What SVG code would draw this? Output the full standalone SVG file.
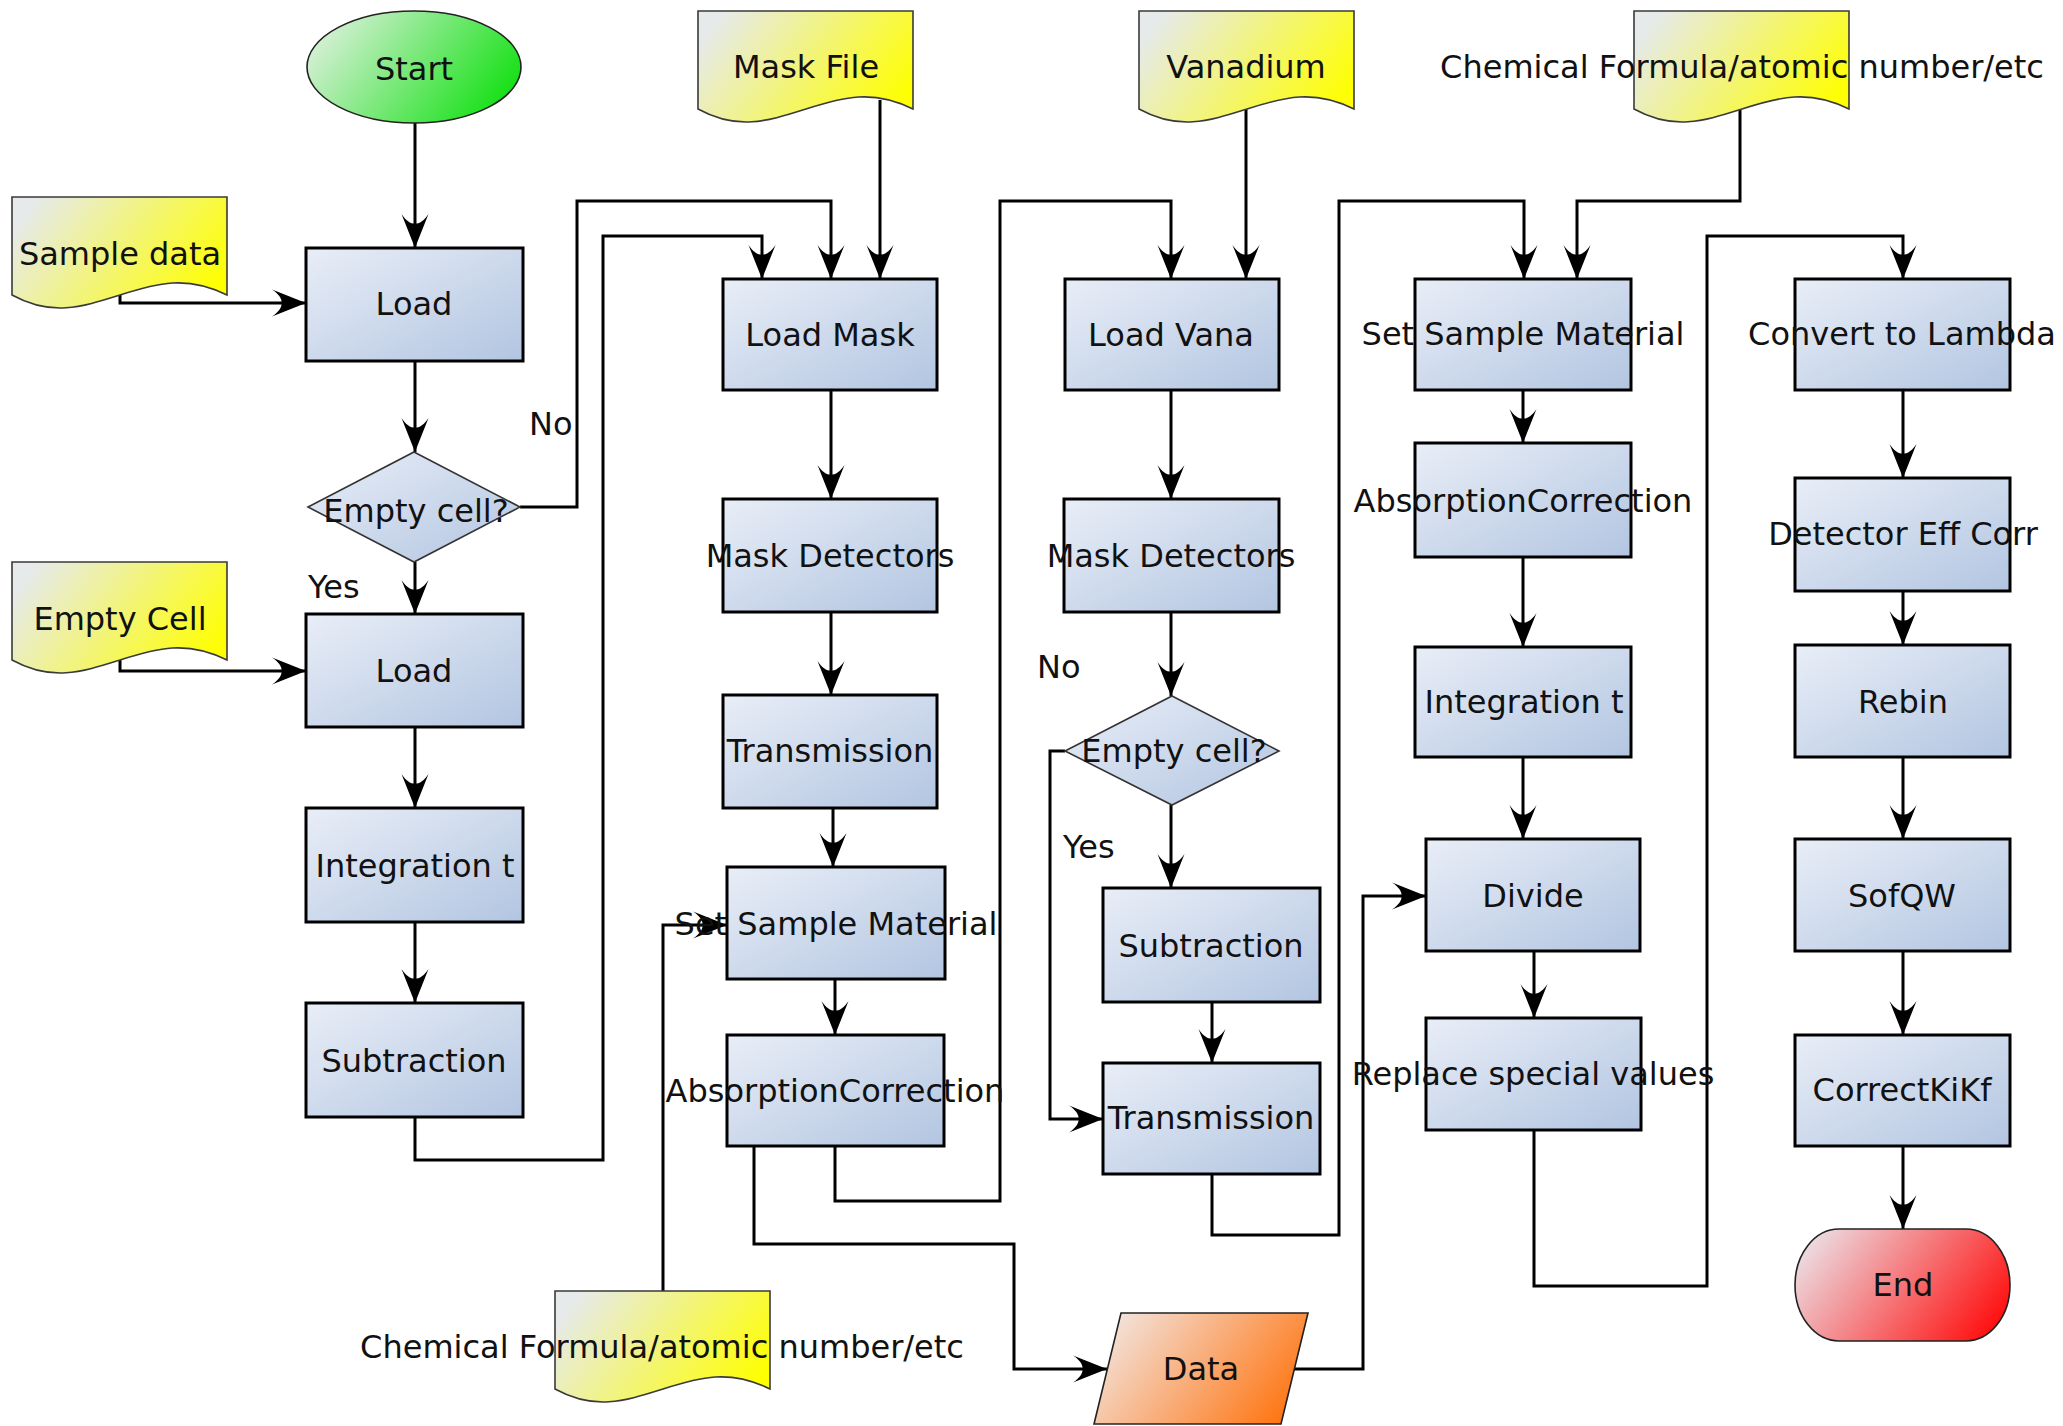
<svg xmlns="http://www.w3.org/2000/svg" width="2063" height="1426" viewBox="0 0 2063 1426">
<style>
.box{fill:url(#boxGrad);stroke:#000;stroke-width:3}
.dia{fill:url(#boxGrad);stroke:#333;stroke-width:1.6}
.doc{fill:url(#docGrad);stroke:#3a3a3a;stroke-width:1.6}
.term{stroke:#222;stroke-width:1.6}
.conn{fill:none;stroke:#000;stroke-width:3;marker-end:url(#arrow)}
text{font-family:"DejaVu Sans","Liberation Sans",sans-serif;font-size:32px;fill:#111;text-anchor:middle}
.lbl{text-anchor:start}
</style>
<defs>
<linearGradient id="boxGrad" x1="0" y1="0" x2="1" y2="1">
<stop offset="0" stop-color="#e9eef7"/>
<stop offset="1" stop-color="#b2c5e1"/>
</linearGradient>
<linearGradient id="docGrad" x1="0" y1="0.3" x2="1" y2="0.7">
<stop offset="0" stop-color="#e6eaea"/>
<stop offset="1" stop-color="#ffff00"/>
</linearGradient>
<linearGradient id="startGrad" x1="0" y1="0.3" x2="1" y2="0.7">
<stop offset="0" stop-color="#d9f0d9"/>
<stop offset="1" stop-color="#10e010"/>
</linearGradient>
<linearGradient id="endGrad" x1="0" y1="0.3" x2="1" y2="0.7">
<stop offset="0" stop-color="#ecdadf"/>
<stop offset="1" stop-color="#ff1010"/>
</linearGradient>
<linearGradient id="dataGrad" x1="0" y1="0.3" x2="1" y2="0.7">
<stop offset="0" stop-color="#f3e2da"/>
<stop offset="1" stop-color="#ff7410"/>
</linearGradient>
<marker id="arrow" viewBox="-36 -15 38 30" refX="0" refY="0" markerWidth="38" markerHeight="30" markerUnits="userSpaceOnUse" orient="auto">
<path d="M0,0 L-34,-13.5 C-21,-5 -21,5 -34,13.5 Z" fill="#000"/>
</marker>
<path id="docShape" d="M0,0 H215 V98 C175,78 145,86 108,98 C70,110 40,120 0,98 Z"/>
</defs>

<g id="connectors">
<path class="conn" d="M415,123 V248"/>
<path class="conn" d="M120,295 V303 H306"/>
<path class="conn" d="M415,361 V452"/>
<path class="conn" d="M520,507 H577 V201 H831 V279"/>
<path class="conn" d="M415,562 V614"/>
<path class="conn" d="M120,660 V671 H306"/>
<path class="conn" d="M415,727 V808"/>
<path class="conn" d="M415,922 V1003"/>
<path class="conn" d="M415,1117 V1160 H603 V236 H762 V279"/>
<path class="conn" d="M880,100 V279"/>
<path class="conn" d="M831,390 V499"/>
<path class="conn" d="M831,612 V695"/>
<path class="conn" d="M833,808 V867"/>
<path class="conn" d="M663,1291 V925 H727"/>
<path class="conn" d="M835,979 V1035"/>
<path class="conn" d="M835,1146 V1201 H1000 V201 H1171 V279"/>
<path class="conn" d="M754,1146 V1244 H1014 V1369 H1107"/>
<path class="conn" d="M1246,109 V279"/>
<path class="conn" d="M1171,390 V499"/>
<path class="conn" d="M1171,612 V696"/>
<path class="conn" d="M1065,751 H1050 V1119 H1103"/>
<path class="conn" d="M1171,805 V888"/>
<path class="conn" d="M1212,1002 V1063"/>
<path class="conn" d="M1212,1174 V1235 H1339 V201 H1524 V279"/>
<path class="conn" d="M1740,109 V201 H1577 V279"/>
<path class="conn" d="M1294,1369 H1363 V896 H1426"/>
<path class="conn" d="M1523,390 V443"/>
<path class="conn" d="M1523,557 V647"/>
<path class="conn" d="M1523,757 V839"/>
<path class="conn" d="M1534,951 V1018"/>
<path class="conn" d="M1534,1130 V1286 H1707 V236 H1903 V279"/>
<path class="conn" d="M1903,390 V478"/>
<path class="conn" d="M1903,591 V645"/>
<path class="conn" d="M1903,757 V839"/>
<path class="conn" d="M1903,951 V1035"/>
<path class="conn" d="M1903,1146 V1229"/>
</g>

<g id="start"><ellipse class="term" cx="414" cy="67" rx="107" ry="56" fill="url(#startGrad)"/><text x="414" y="80">Start</text></g>
<g id="sample-data"><use href="#docShape" class="doc" x="12" y="197"/><text x="120" y="265">Sample data</text></g>
<g id="load1"><rect class="box" x="306" y="248" width="217" height="113"/><text x="414" y="315">Load</text></g>
<g id="empty-q1"><polygon class="dia" points="414,452 520,507 414,562 308,507"/><text x="416" y="522">Empty cell?</text></g>
<g id="label-no1"><text class="lbl" x="529" y="435">No</text></g>
<g id="label-yes1"><text class="lbl" x="308" y="598">Yes</text></g>
<g id="empty-cell"><use href="#docShape" class="doc" x="12" y="562"/><text x="120" y="630">Empty Cell</text></g>
<g id="load2"><rect class="box" x="306" y="614" width="217" height="113"/><text x="414" y="682">Load</text></g>
<g id="integration1"><rect class="box" x="306" y="808" width="217" height="114"/><text x="415" y="877">Integration t</text></g>
<g id="subtraction1"><rect class="box" x="306" y="1003" width="217" height="114"/><text x="414" y="1072">Subtraction</text></g>

<g id="mask-file"><use href="#docShape" class="doc" x="698" y="11"/><text x="806" y="78">Mask File</text></g>
<g id="load-mask"><rect class="box" x="723" y="279" width="214" height="111"/><text x="830" y="346">Load Mask</text></g>
<g id="mask-det1"><rect class="box" x="723" y="499" width="214" height="113"/><text x="830" y="567">Mask Detectors</text></g>
<g id="transmission1"><rect class="box" x="723" y="695" width="214" height="113"/><text x="830" y="762">Transmission</text></g>
<g id="set-sample2"><rect class="box" x="727" y="867" width="218" height="112"/><text x="836" y="935">Set Sample Material</text></g>
<g id="absorption2"><rect class="box" x="727" y="1035" width="217" height="111"/><text x="835" y="1102">AbsorptionCorrection</text></g>
<g id="chem2"><use href="#docShape" class="doc" x="555" y="1291"/><text x="662" y="1358">Chemical Formula/atomic number/etc</text></g>
<g id="data"><polygon points="1121,1313 1308,1313 1281,1424 1094,1424" fill="url(#dataGrad)" stroke="#222" stroke-width="1.6"/><text x="1201" y="1380">Data</text></g>

<g id="vanadium"><use href="#docShape" class="doc" x="1139" y="11"/><text x="1246" y="78">Vanadium</text></g>
<g id="load-vana"><rect class="box" x="1065" y="279" width="214" height="111"/><text x="1171" y="346">Load Vana</text></g>
<g id="mask-det2"><rect class="box" x="1064" y="499" width="215" height="113"/><text x="1171" y="567">Mask Detectors</text></g>
<g id="empty-q2"><polygon class="dia" points="1172,696 1279,751 1172,805 1065,751"/><text x="1174" y="762">Empty cell?</text></g>
<g id="label-no2"><text class="lbl" x="1037" y="678">No</text></g>
<g id="label-yes2"><text class="lbl" x="1063" y="858">Yes</text></g>
<g id="subtraction2"><rect class="box" x="1103" y="888" width="217" height="114"/><text x="1211" y="957">Subtraction</text></g>
<g id="transmission2"><rect class="box" x="1103" y="1063" width="217" height="111"/><text x="1211" y="1129">Transmission</text></g>

<g id="chem1"><use href="#docShape" class="doc" x="1634" y="11"/><text x="1742" y="78">Chemical Formula/atomic number/etc</text></g>
<g id="set-sample3"><rect class="box" x="1415" y="279" width="216" height="111"/><text x="1523" y="345">Set Sample Material</text></g>
<g id="absorption3"><rect class="box" x="1415" y="443" width="216" height="114"/><text x="1523" y="512">AbsorptionCorrection</text></g>
<g id="integration3"><rect class="box" x="1415" y="647" width="216" height="110"/><text x="1524" y="713">Integration t</text></g>
<g id="divide"><rect class="box" x="1426" y="839" width="214" height="112"/><text x="1533" y="907">Divide</text></g>
<g id="replace"><rect class="box" x="1426" y="1018" width="215" height="112"/><text x="1533" y="1085">Replace special values</text></g>

<g id="convert"><rect class="box" x="1795" y="279" width="215" height="111"/><text x="1902" y="345">Convert to Lambda</text></g>
<g id="detector"><rect class="box" x="1795" y="478" width="215" height="113"/><text x="1903" y="545">Detector Eff Corr</text></g>
<g id="rebin"><rect class="box" x="1795" y="645" width="215" height="112"/><text x="1903" y="713">Rebin</text></g>
<g id="sofqw"><rect class="box" x="1795" y="839" width="215" height="112"/><text x="1902" y="907">SofQW</text></g>
<g id="correctkikf"><rect class="box" x="1795" y="1035" width="215" height="111"/><text x="1902" y="1101">CorrectKiKf</text></g>
<g id="end"><rect class="term" x="1795" y="1229" width="215" height="112" rx="44" ry="56" fill="url(#endGrad)"/><text x="1903" y="1296">End</text></g>
</svg>
